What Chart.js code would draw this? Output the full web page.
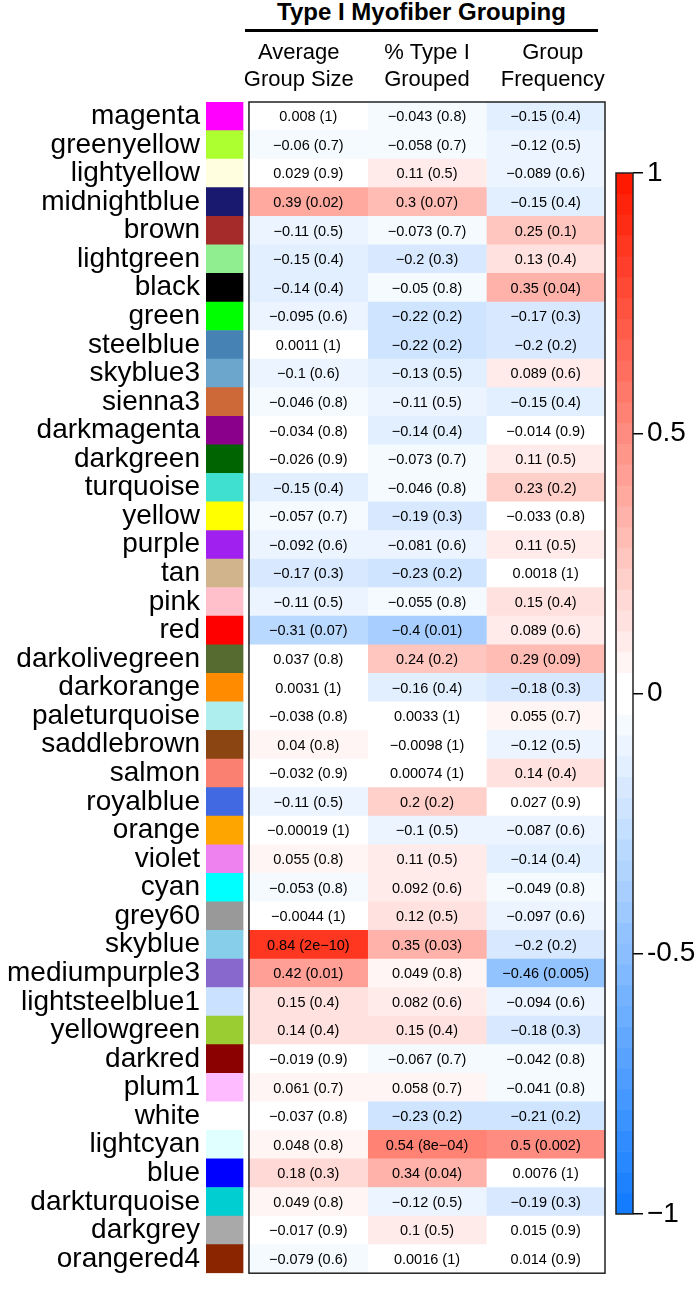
<!DOCTYPE html>
<html>
<head>
<meta charset="utf-8">
<script src="https://cdn.jsdelivr.net/npm/chart.js@4.4.1/dist/chart.umd.min.js"></script>
<style>
  body { margin: 0; background: #fff; }
  #wrap { position: relative; width: 700px; height: 1296px; font-family: "Liberation Sans", Arial, sans-serif; }
  canvas { position: absolute; left: 0; top: 0; }
  #title { position: absolute; left: 245px; top: 0; width: 353px; text-align: center; font-weight: bold; font-size: 24px; line-height: 24px; }
  #rule { position: absolute; left: 245px; top: 29px; width: 353px; height: 3px; background: #000; }
</style>
</head>
<body>
<div id="wrap">
  <div id="title">Type I Myofiber Grouping</div>
  <div id="rule"></div>
  <canvas id="heat" width="700" height="1296"></canvas>
  <canvas id="scale" width="700" height="1296"></canvas>
</div>
<script>
const modules = ['magenta', 'greenyellow', 'lightyellow', 'midnightblue', 'brown', 'lightgreen', 'black',
  'green', 'steelblue', 'skyblue3', 'sienna3', 'darkmagenta', 'darkgreen', 'turquoise', 'yellow', 'purple',
  'tan', 'pink', 'red', 'darkolivegreen', 'darkorange', 'paleturquoise', 'saddlebrown', 'salmon', 'royalblue',
  'orange', 'violet', 'cyan', 'grey60', 'skyblue', 'mediumpurple3', 'lightsteelblue1', 'yellowgreen', 'darkred',
  'plum1', 'white', 'lightcyan', 'blue', 'darkturquoise', 'darkgrey', 'orangered4'];

// R colour names -> hex
const swatchColors = ['#FF00FF', '#ADFF2F', '#FFFFE0', '#191970', '#A52A2A', '#90EE90', '#000000',
  '#00FF00', '#4682B4', '#6CA6CD', '#CD6839', '#8B008B', '#006400', '#40E0D0', '#FFFF00', '#A020F0',
  '#D2B48C', '#FFC0CB', '#FF0000', '#556B2F', '#FF8C00', '#AFEEEE', '#8B4513', '#FA8072', '#4169E1',
  '#FFA500', '#EE82EE', '#00FFFF', '#999999', '#87CEEB', '#8968CD', '#CAE1FF', '#9ACD32', '#8B0000',
  '#FFBBFF', '#FFFFFF', '#E0FFFF', '#0000FF', '#00CED1', '#A9A9A9', '#8B2500'];

const traits = [['Average', 'Group Size'], ['% Type I', 'Grouped'], ['Group', 'Frequency']];

const avgSizeR = [0.008, -0.06, 0.029, 0.39, -0.11, -0.15, -0.14, -0.095, 0.0011, -0.1, -0.046, -0.034, -0.026,
  -0.15, -0.057, -0.092, -0.17, -0.11, -0.31, 0.037, 0.0031, -0.038, 0.04, -0.032, -0.11, -0.00019, 0.055,
  -0.053, -0.0044, 0.84, 0.42, 0.15, 0.14, -0.019, 0.061, -0.037, 0.048, 0.18, 0.049, -0.017, -0.079];
const avgSizeP = ['1', '0.7', '0.9', '0.02', '0.5', '0.4', '0.4', '0.6', '1', '0.6', '0.8', '0.8', '0.9', '0.4',
  '0.7', '0.6', '0.3', '0.5', '0.07', '0.8', '1', '0.8', '0.8', '0.9', '0.5', '1', '0.8', '0.8', '1', '2e\u221210',
  '0.01', '0.4', '0.4', '0.9', '0.7', '0.8', '0.8', '0.3', '0.8', '0.9', '0.6'];

const pctGroupedR = [-0.043, -0.058, 0.11, 0.3, -0.073, -0.2, -0.05, -0.22, -0.22, -0.13, -0.11, -0.14, -0.073,
  -0.046, -0.19, -0.081, -0.23, -0.055, -0.4, 0.24, -0.16, 0.0033, -0.0098, 0.00074, 0.2, -0.1, 0.11, 0.092,
  0.12, 0.35, 0.049, 0.082, 0.15, -0.067, 0.058, -0.23, 0.54, 0.34, -0.12, 0.1, 0.0016];
const pctGroupedP = ['0.8', '0.7', '0.5', '0.07', '0.7', '0.3', '0.8', '0.2', '0.2', '0.5', '0.5', '0.4', '0.7',
  '0.8', '0.3', '0.6', '0.2', '0.8', '0.01', '0.2', '0.4', '1', '1', '1', '0.2', '0.5', '0.5', '0.6', '0.5', '0.03',
  '0.8', '0.6', '0.4', '0.7', '0.7', '0.2', '8e\u221204', '0.04', '0.5', '0.5', '1'];

const groupFreqR = [-0.15, -0.12, -0.089, -0.15, 0.25, 0.13, 0.35, -0.17, -0.2, 0.089, -0.15, -0.014, 0.11,
  0.23, -0.033, 0.11, 0.0018, 0.15, 0.089, 0.29, -0.18, 0.055, -0.12, 0.14, 0.027, -0.087, -0.14, -0.049,
  -0.097, -0.2, -0.46, -0.094, -0.18, -0.042, -0.041, -0.21, 0.5, 0.0076, -0.19, 0.015, 0.014];
const groupFreqP = ['0.4', '0.5', '0.6', '0.4', '0.1', '0.4', '0.04', '0.3', '0.2', '0.6', '0.4', '0.9', '0.5',
  '0.2', '0.8', '0.5', '1', '0.4', '0.6', '0.09', '0.3', '0.7', '0.5', '0.4', '0.9', '0.6', '0.4', '0.8', '0.6',
  '0.2', '0.005', '0.6', '0.3', '0.8', '0.8', '0.2', '0.002', '1', '0.3', '0.9', '0.9'];

const scaleTicks = [-1, -0.5, 0, 0.5, 1];
const scaleTickLabels = ['\u22121', '-0.5', '0', '0.5', '1'];

const FONT = '"Liberation Sans", Arial, Helvetica, sans-serif';

// blue - white - red in 50 bins, the two middle bins white (like WGCNA blueWhiteRed(50))
const nSteps = 50, half = nSteps / 2;
const blueEnd = [20, 125, 255], redEnd = [255, 25, 0];
function heatColor(v) {
  let i = Math.floor((v + 1) / 2 * nSteps);
  i = Math.max(0, Math.min(nSteps - 1, i));
  let end, a;
  if (i < half) { end = blueEnd; a = (half - 1 - i) / (half - 1); }
  else { end = redEnd; a = (i - half) / (half - 1); }
  const c = end.map(e => Math.round(255 + (e - 255) * a));
  return 'rgb(' + c.join(',') + ')';
}
const fmtR = v => String(v).replace('-', '\u2212');

const columns = [[avgSizeR, avgSizeP], [pctGroupedR, pctGroupedP], [groupFreqR, groupFreqP]];

const heatDatasets = columns.map(([r, p], j) => ({
  data: r.map(() => [j, j + 1]),
  backgroundColor: r.map(heatColor),
  cellLabels: r.map((v, i) => fmtR(v) + ' (' + p[i] + ')')
}));

const swatchDataset = {
  data: modules.map(() => [-0.362, -0.05]),
  backgroundColor: swatchColors
};

const cellText = {
  id: 'cellText',
  afterDatasetsDraw(chart) {
    const ctx = chart.ctx;
    ctx.save();
    ctx.font = '14.5px ' + FONT;
    ctx.fillStyle = '#000';
    ctx.textAlign = 'center';
    ctx.textBaseline = 'middle';
    chart.data.datasets.forEach((ds, d) => {
      if (!ds.cellLabels) return;
      chart.getDatasetMeta(d).data.forEach((bar, i) => {
        const c = bar.getCenterPoint();
        ctx.fillText(ds.cellLabels[i], c.x, c.y + 1);
      });
    });
    const x = chart.scales.x, a = chart.chartArea;
    const x0 = x.getPixelForValue(0), x1 = x.getPixelForValue(3);
    ctx.strokeStyle = '#222';
    ctx.lineWidth = 1.5;
    ctx.strokeRect(x0, a.top, x1 - x0, a.bottom - a.top);
    ctx.restore();
  }
};

new Chart(document.getElementById('heat'), {
  type: 'bar',
  data: {
    labels: modules,
    datasets: [swatchDataset, ...heatDatasets]
  },
  options: {
    indexAxis: 'y',
    responsive: false,
    animation: false,
    devicePixelRatio: 1,
    layout: { padding: { left: 0, top: 0, right: 95, bottom: 10 } },
    datasets: { bar: { grouped: false, barPercentage: 1, categoryPercentage: 1, borderWidth: 0 } },
    scales: {
      x: {
        type: 'linear',
        position: 'top',
        min: -0.362,
        max: 3,
        grid: { display: false, drawTicks: false },
        border: { display: false },
        afterBuildTicks: s => { s.ticks = [0.42, 1.5, 2.56].map(v => ({ value: v })); },
        afterFit: s => { s.height = 102; },
        ticks: {
          padding: 9,
          color: '#000',
          font: { family: FONT, size: 22 },
          maxRotation: 0,
          callback: (v, i) => traits[i]
        }
      },
      y: {
        grid: { display: false, drawTicks: false },
        border: { display: false },
        afterFit: s => { s.width = 206; },
        ticks: {
          autoSkip: false,
          padding: 6,
          color: '#000',
          font: { family: FONT, size: 28 }
        }
      }
    },
    plugins: { legend: { display: false }, tooltip: { enabled: false } }
  },
  plugins: [cellText]
});

// colour key
const keyEdges = Array.from({ length: nSteps }, (_, i) => [-1 + 2 * i / nSteps, -1 + 2 * (i + 1) / nSteps]);

const keyOutline = {
  id: 'keyOutline',
  afterDatasetsDraw(chart) {
    const ctx = chart.ctx, a = chart.chartArea;
    ctx.save();
    ctx.strokeStyle = '#222';
    ctx.lineWidth = 1.5;
    ctx.strokeRect(a.left, a.top, a.right - a.left, a.bottom - a.top);
    ctx.restore();
  }
};

new Chart(document.getElementById('scale'), {
  type: 'bar',
  data: {
    labels: ['key'],
    datasets: [{
      data: keyEdges.map(e => ({ x: 'key', y: e })),
      backgroundColor: keyEdges.map(e => heatColor((e[0] + e[1]) / 2)),
      barPercentage: 1,
      categoryPercentage: 1,
      borderWidth: 0
    }]
  },
  options: {
    responsive: false,
    animation: false,
    devicePixelRatio: 1,
    layout: { padding: { left: 616, top: 173, right: 0, bottom: 82 } },
    scales: {
      x: { display: false },
      y: {
        position: 'right',
        min: -1,
        max: 1,
        afterBuildTicks: s => { s.ticks = scaleTicks.map(v => ({ value: v })); },
        afterFit: s => { s.width = 67; },
        grid: { drawOnChartArea: false, drawTicks: true, tickLength: 10, color: '#000', lineWidth: 1.5 },
        border: { display: false },
        ticks: {
          padding: 4,
          color: '#000',
          font: { family: FONT, size: 28 },
          callback: v => scaleTickLabels[scaleTicks.indexOf(v)]
        }
      }
    },
    plugins: { legend: { display: false }, tooltip: { enabled: false } }
  },
  plugins: [keyOutline]
});
</script>
</body>
</html>
